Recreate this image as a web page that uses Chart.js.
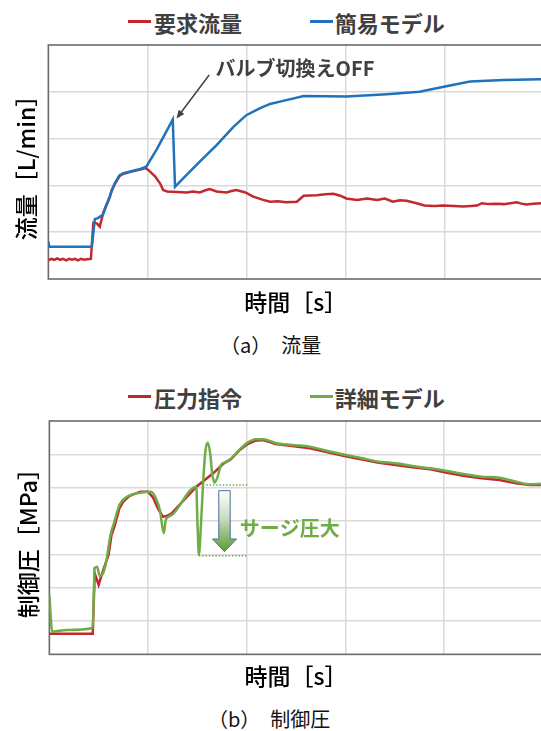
<!DOCTYPE html>
<html lang="ja">
<head>
<meta charset="utf-8">
<title>流量・制御圧</title>
<script src="https://cdn.jsdelivr.net/npm/chart.js@4.4.1/dist/chart.umd.min.js"></script>
<style>
html, body { margin: 0; padding: 0; overflow: hidden; background: #fff; }
body { width: 541px; height: 731px; position: relative; }
canvas { position: absolute; left: 0; }
.leyenda { position: absolute; left: 0; width: 541px; height: 30px; line-height: 30px;
  font: bold 22px "Noto Sans CJK JP", sans-serif; color: #404040; }
.leyenda .linea { position: absolute; top: 13.5px; width: 23px; height: 3px; }
.leyenda .txt { position: absolute; top: 0; white-space: nowrap; }
.pie { position: absolute; height: 24px; line-height: 24px; white-space: nowrap;
  font: 400 20px "Noto Sans CJK JP", sans-serif; color: #111; }
</style>
</head>
<body>

<div class="leyenda" id="leyendaA" style="top:6px"></div>
<canvas id="graficoFlujo" width="545" height="320" style="top:0"></canvas>
<div class="pie" style="top:330px; left:220px">（a）　流量</div>

<div class="leyenda" id="leyendaB" style="top:381px"></div>
<canvas id="graficoPresion" width="545" height="330" style="top:370px"></canvas>
<div class="pie" style="top:704px; left:208px">（b）　制御圧</div>

<script>
/** Series del grafico (a): [tiempo, caudal] en divisiones de la rejilla */
const demandaCaudal = [
  [0,0.40],[0.03,0.43],[0.06,0.41],[0.09,0.44],[0.12,0.41],[0.15,0.43],[0.18,0.40],[0.21,0.43],
  [0.24,0.41],[0.27,0.43],[0.30,0.40],[0.33,0.43],[0.36,0.41],[0.39,0.42],[0.43,0.43],
  [0.455,1.20],[0.49,1.19],[0.52,1.12],[0.556,1.42],[0.58,1.55],[0.62,1.74],[0.64,1.88],[0.67,2.02],
  [0.72,2.20],[0.76,2.25],[0.85,2.30],[0.93,2.34],[0.98,2.37],[1.01,2.33],[1.08,2.19],[1.13,2.04],
  [1.16,1.90],[1.20,1.87],[1.30,1.86],[1.40,1.85],[1.46,1.87],[1.53,1.85],[1.58,1.89],[1.63,1.92],
  [1.70,1.87],[1.80,1.85],[1.85,1.88],[1.90,1.90],[1.99,1.85],[2.07,1.76],[2.17,1.69],[2.24,1.65],
  [2.32,1.66],[2.40,1.64],[2.51,1.65],[2.58,1.78],[2.71,1.79],[2.80,1.81],[2.88,1.82],[2.95,1.78],
  [3.01,1.72],[3.12,1.69],[3.22,1.72],[3.32,1.69],[3.40,1.72],[3.48,1.65],[3.55,1.68],[3.62,1.67],
  [3.72,1.62],[3.80,1.57],[3.90,1.56],[3.99,1.57],[4.10,1.56],[4.19,1.55],[4.27,1.56],[4.33,1.57],
  [4.38,1.62],[4.45,1.60],[4.53,1.61],[4.60,1.60],[4.67,1.62],[4.73,1.64],[4.78,1.61],[4.83,1.59],
  [4.90,1.61],[4.98,1.62]
];
const modeloSimple = [
  [0,0.80],[0.01,0.69],[0.44,0.69],[0.47,1.28],[0.50,1.30],[0.55,1.37],[0.62,1.76],[0.64,1.90],
  [0.67,2.04],[0.72,2.22],[0.76,2.26],[0.93,2.35],[0.99,2.40],[1.095,2.77],[1.20,3.18],[1.257,3.41],
  [1.28,1.97],[1.33,2.08],[1.53,2.51],[1.70,2.86],[1.87,3.25],[2.00,3.50],[2.14,3.65],[2.24,3.74],
  [2.34,3.79],[2.58,3.91],[3.01,3.90],[3.42,3.95],[3.75,4.00],[4.02,4.12],[4.26,4.22],[4.60,4.25],
  [4.98,4.27]
];

/** Series del grafico (b): [tiempo, presion] */
const ordenPresion = [
  [0,0.62],[0.44,0.62],[0.46,2.43],[0.50,2.08],[0.53,2.38],[0.60,2.98],[0.63,3.58],[0.66,3.83],
  [0.71,4.38],[0.75,4.58],[0.81,4.75],[0.92,4.88],[1.00,4.88],[1.05,4.71],[1.10,4.38],[1.15,4.13],
  [1.19,4.15],[1.24,4.23],[1.49,5.03],[1.66,5.43],[1.76,5.71],[1.84,5.85],[1.93,6.13],[2.01,6.31],
  [2.09,6.41],[2.16,6.43],[2.22,6.38],[2.29,6.31],[2.46,6.25],[2.64,6.18],[2.81,6.07],[2.99,5.95],
  [3.16,5.85],[3.34,5.75],[3.51,5.68],[3.68,5.61],[3.86,5.55],[4.03,5.45],[4.21,5.35],[4.38,5.28],
  [4.56,5.23],[4.73,5.13],[4.87,5.08],[4.98,5.08]
];
const modeloDetallado = [
  [0,1.80],[0.03,0.68],[0.18,0.73],[0.44,0.79],[0.46,2.58],[0.485,2.63],[0.51,2.35],[0.545,2.43],
  [0.58,2.83],[0.62,3.58],[0.66,3.98],[0.71,4.48],[0.78,4.71],[0.92,4.85],[1.03,4.88],[1.08,4.68],
  [1.12,4.33],[1.16,3.63],[1.18,4.03],[1.21,4.13],[1.25,4.20],[1.49,5.03],[1.50,4.03],[1.51,3.23],
  [1.515,2.98],[1.539,4.03],[1.562,5.33],[1.583,6.13],[1.606,6.35],[1.630,6.03],[1.650,5.43],
  [1.674,5.15],[1.70,5.28],[1.74,5.68],[1.775,5.75],[1.84,5.87],[1.93,6.15],[2.01,6.35],[2.09,6.45],
  [2.16,6.45],[2.22,6.42],[2.29,6.34],[2.46,6.28],[2.64,6.23],[2.81,6.11],[2.99,5.99],[3.16,5.89],
  [3.34,5.78],[3.51,5.73],[3.68,5.65],[3.86,5.58],[4.03,5.50],[4.21,5.40],[4.38,5.33],[4.56,5.30],
  [4.73,5.18],[4.87,5.10],[4.98,5.12]
];

/** Niveles de la oscilacion marcados con punteado (max y min) */
const nivelesSobrepresion = [5.08, 2.96];

const ROJO = '#C3282E';
const AZUL = '#1F72BB';
const VERDE = '#6FAC47';
const FUENTE = '"Noto Sans CJK JP", sans-serif';

Chart.defaults.font.family = FUENTE;

/** Marco gris alrededor del area de trazado */
const marco = {
  id: 'marco',
  beforeDatasetsDraw(chart) {
    const {ctx, chartArea: a} = chart;
    ctx.save();
    ctx.strokeStyle = '#6a6a6a';
    ctx.lineWidth = 1.5;
    ctx.strokeRect(a.left, a.top, a.right - a.left, a.bottom - a.top);
    ctx.restore();
  }
};

/** Flecha y texto sobre el pico del modelo simple */
const notaValvula = {
  id: 'notaValvula',
  afterDatasetsDraw(chart) {
    const {ctx, scales: {x, y}} = chart;
    const x0 = x.getPixelForValue(1.625), y0 = y.getPixelForValue(4.36);
    const x1 = x.getPixelForValue(1.295), y1 = y.getPixelForValue(3.43);
    const ang = Math.atan2(y1 - y0, x1 - x0);
    ctx.save();
    ctx.strokeStyle = '#404040';
    ctx.fillStyle = '#404040';
    ctx.lineWidth = 1.5;
    ctx.beginPath();
    ctx.moveTo(x0, y0);
    ctx.lineTo(x1 - 6 * Math.cos(ang), y1 - 6 * Math.sin(ang));
    ctx.stroke();
    ctx.beginPath();
    ctx.moveTo(x1, y1);
    ctx.lineTo(x1 - 9 * Math.cos(ang - 0.4), y1 - 9 * Math.sin(ang - 0.4));
    ctx.lineTo(x1 - 9 * Math.cos(ang + 0.4), y1 - 9 * Math.sin(ang + 0.4));
    ctx.closePath();
    ctx.fill();
    ctx.font = 'bold 20px ' + FUENTE;
    ctx.textBaseline = 'middle';
    ctx.fillText('バルブ切換えOFF', x.getPixelForValue(1.69), y.getPixelForValue(4.50));
    ctx.restore();
  }
};

/** Punteados de max/min, flecha degradada y texto de la sobrepresion */
const notaSobrepresion = {
  id: 'notaSobrepresion',
  afterDatasetsDraw(chart) {
    const {ctx, scales: {x, y}} = chart;
    const xFin = x.getPixelForValue(2.01);
    ctx.save();
    ctx.strokeStyle = VERDE;
    ctx.lineWidth = 1.5;
    ctx.setLineDash([1.5, 1.8]);
    ctx.beginPath();
    ctx.moveTo(x.getPixelForValue(1.59), y.getPixelForValue(nivelesSobrepresion[0]));
    ctx.lineTo(xFin, y.getPixelForValue(nivelesSobrepresion[0]));
    ctx.moveTo(x.getPixelForValue(1.515), y.getPixelForValue(nivelesSobrepresion[1]));
    ctx.lineTo(xFin, y.getPixelForValue(nivelesSobrepresion[1]));
    ctx.stroke();
    ctx.setLineDash([]);

    const cx = x.getPixelForValue(1.775);
    const yArriba = y.getPixelForValue(4.91);
    const yCabeza = y.getPixelForValue(3.46);
    const yPunta = y.getPixelForValue(3.08);
    const grad = ctx.createLinearGradient(0, yArriba, 0, yPunta);
    grad.addColorStop(0, '#ffffff');
    grad.addColorStop(0.45, '#c9dcbd');
    grad.addColorStop(1, '#5b9a37');
    ctx.beginPath();
    ctx.moveTo(cx - 5.7, yArriba);
    ctx.lineTo(cx + 5.7, yArriba);
    ctx.lineTo(cx + 5.7, yCabeza);
    ctx.lineTo(cx + 12, yCabeza);
    ctx.lineTo(cx, yPunta);
    ctx.lineTo(cx - 12, yCabeza);
    ctx.lineTo(cx - 5.7, yCabeza);
    ctx.closePath();
    ctx.fillStyle = grad;
    ctx.fill();
    ctx.strokeStyle = '#4a6f9c';
    ctx.lineWidth = 1;
    ctx.stroke();

    ctx.fillStyle = VERDE;
    ctx.font = 'bold 20px ' + FUENTE;
    ctx.textBaseline = 'middle';
    ctx.fillText('サージ圧大', x.getPixelForValue(1.93), y.getPixelForValue(3.78));
    ctx.restore();
  }
};

function armarLeyenda(id, series) {
  const caja = document.getElementById(id);
  const lineas = [128, 309.5];
  const textos = [154, 334.7];
  series.forEach((s, i) => {
    const l = document.createElement('span');
    l.className = 'linea';
    l.style.left = lineas[i] + 'px';
    l.style.background = s.color;
    const t = document.createElement('span');
    t.className = 'txt';
    t.style.left = textos[i] + 'px';
    t.textContent = s.nombre;
    caja.appendChild(l);
    caja.appendChild(t);
  });
}

function crearGrafico(id, series, cfg) {
  const ctx = document.getElementById(id);
  new Chart(ctx, {
    type: 'line',
    data: {
      datasets: series.map(s => ({
        label: s.nombre,
        data: s.puntos.map(p => ({x: p[0], y: p[1]})),
        borderColor: s.color,
        backgroundColor: s.color,
        borderWidth: 2.5,
        pointRadius: 0,
        fill: false,
        tension: 0,
        cubicInterpolationMode: s.suave ? 'monotone' : 'default',
        order: s.orden
      }))
    },
    options: {
      responsive: false,
      animation: false,
      layout: {padding: {top: cfg.arriba, right: cfg.derecha, left: 0, bottom: 0}},
      plugins: {legend: {display: false}, tooltip: {enabled: false}},
      scales: {
        x: {
          type: 'linear', min: 0, max: 5,
          ticks: {display: false, stepSize: 1},
          grid: {color: '#dadada', lineWidth: 1.5, drawTicks: false},
          border: {display: false},
          title: {display: true, text: '時間［s］', color: '#000',
            font: {size: 23, weight: 500}, padding: cfg.padX}
        },
        y: {
          min: 0, max: cfg.yMax,
          ticks: {display: false, stepSize: 1},
          grid: {color: '#dadada', lineWidth: 1.5, drawTicks: false},
          border: {display: false},
          title: {display: true, text: cfg.tituloY, color: '#000',
            font: {size: 23, weight: 500}, padding: cfg.padY}
        }
      }
    },
    plugins: [marco, cfg.nota]
  });
}

const seriesFlujo = [
  {nombre: '要求流量', puntos: demandaCaudal, color: ROJO, orden: 1},
  {nombre: '簡易モデル', puntos: modeloSimple, color: AZUL, orden: 0}
];
const seriesPresion = [
  {nombre: '圧力指令', puntos: ordenPresion, color: ROJO, orden: 1},
  {nombre: '詳細モデル', puntos: modeloDetallado, color: VERDE, orden: 0, suave: true}
];

armarLeyenda('leyendaA', seriesFlujo);
armarLeyenda('leyendaB', seriesPresion);

crearGrafico('graficoFlujo', seriesFlujo, {
  yMax: 5, tituloY: '流量［L/min］', arriba: 45, derecha: 1.7,
  padX: {top: 9.7, bottom: 3.7}, padY: {top: 12.9, bottom: 7.8}, nota: notaValvula
});
crearGrafico('graficoPresion', seriesPresion, {
  yMax: 7, tituloY: '制御圧［MPa］', arriba: 51, derecha: 2.2,
  padX: {top: 8.6, bottom: 9.5}, padY: {top: 14.9, bottom: 6.8}, nota: notaSobrepresion
});
</script>
</body>
</html>
